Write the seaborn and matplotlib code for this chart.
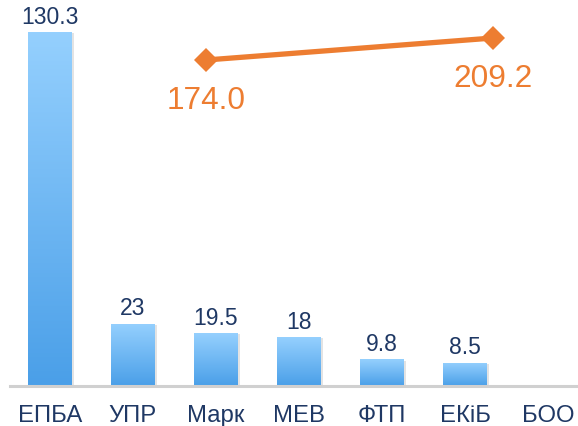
import numpy as np
import pandas as pd
import matplotlib
matplotlib.use("Agg")
import matplotlib.pyplot as plt
import seaborn as sns
from matplotlib.colors import LinearSegmentedColormap
from matplotlib import patheffects as pe

# --- data ---
categories = ["ЕПБА", "УПР", "Марк", "МЕВ", "ФТП", "ЕКіБ", "БОО"]
bar_values = [130.3, 23, 19.5, 18, 9.8, 8.5, np.nan]
bar_labels = ["130.3", "23", "19.5", "18", "9.8", "8.5", ""]

line_categories = ["Марк", "ЕКіБ"]
line_values = [174.0, 209.2]

sns.set_theme(style="white")
plt.rcParams["font.family"] = ["Liberation Sans", "DejaVu Sans"]

W, H = 578, 426
fig = plt.figure(figsize=(W / 100, H / 100), dpi=100)
ax = fig.add_axes([10 / W, 40 / H, 568 / W, 376 / H])

df = pd.DataFrame({"cat": categories, "val": bar_values})
sns.barplot(data=df, x="cat", y="val", ax=ax, width=0.52,
            color="#6fb9f5", saturation=1, errorbar=None, zorder=2)

ax.set_xlabel("")
ax.set_ylabel("")
ax.set_yticks([])
for s in ["top", "right", "left"]:
    ax.spines[s].set_visible(False)
ax.spines["bottom"].set_color("#d0d0d0")
ax.spines["bottom"].set_linewidth(2.2)
ax.tick_params(axis="x", length=0, pad=14, labelsize=17.2, colors="#1f3864")

# vertical gradient fill for each bar, light at top, deeper blue at base
cmap = LinearSegmentedColormap.from_list("barfill", ["#4a9fe8", "#95d0fe"])
grad = np.linspace(0, 1, 256).reshape(-1, 1)
for patch in ax.patches:
    h = patch.get_height()
    if not np.isfinite(h) or h <= 0:
        continue
    x0 = patch.get_x()
    w = patch.get_width()
    patch.set_path_effects([pe.SimplePatchShadow(offset=(2, -1), shadow_rgbFace="#b0b0b0", alpha=0.35)])
    im = ax.imshow(grad, cmap=cmap, origin="lower", aspect="auto",
                   extent=[x0, x0 + w, 0, h], zorder=2.5)
    im.set_clip_path(patch)

ax.set_xlim(-0.48, 6.36)
ax.set_ylim(0, 138.4)

for i, (v, lab) in enumerate(zip(bar_values, bar_labels)):
    if lab:
        ax.annotate(lab, (i, v), xytext=(0, 2.5), textcoords="offset points",
                    ha="center", va="bottom", fontsize=16.5, color="#1f3864",
                    zorder=5, annotation_clip=False)

# secondary series on its own axes
ax2 = fig.add_axes(ax.get_position(), frameon=False)
ldf = pd.DataFrame({"x": np.arange(len(line_values)), "y": line_values})
sns.lineplot(data=ldf, x="x", y="y", ax=ax2, color="#ed7d31", linewidth=3.8,
             marker="D", markersize=12, markeredgewidth=0, zorder=4)
ax2.set_xlim(-0.683, 1.296)
ax2.set_ylim(-347.6, 254.0)
ax2.set_axis_off()
for i, v in enumerate(line_values):
    ax2.annotate(f"{v:.1f}", (i, v), xytext=(0, -19), textcoords="offset points",
                 ha="center", va="top", fontsize=22.8, color="#ed7d31")

fig.savefig("out.png", dpi=100)
